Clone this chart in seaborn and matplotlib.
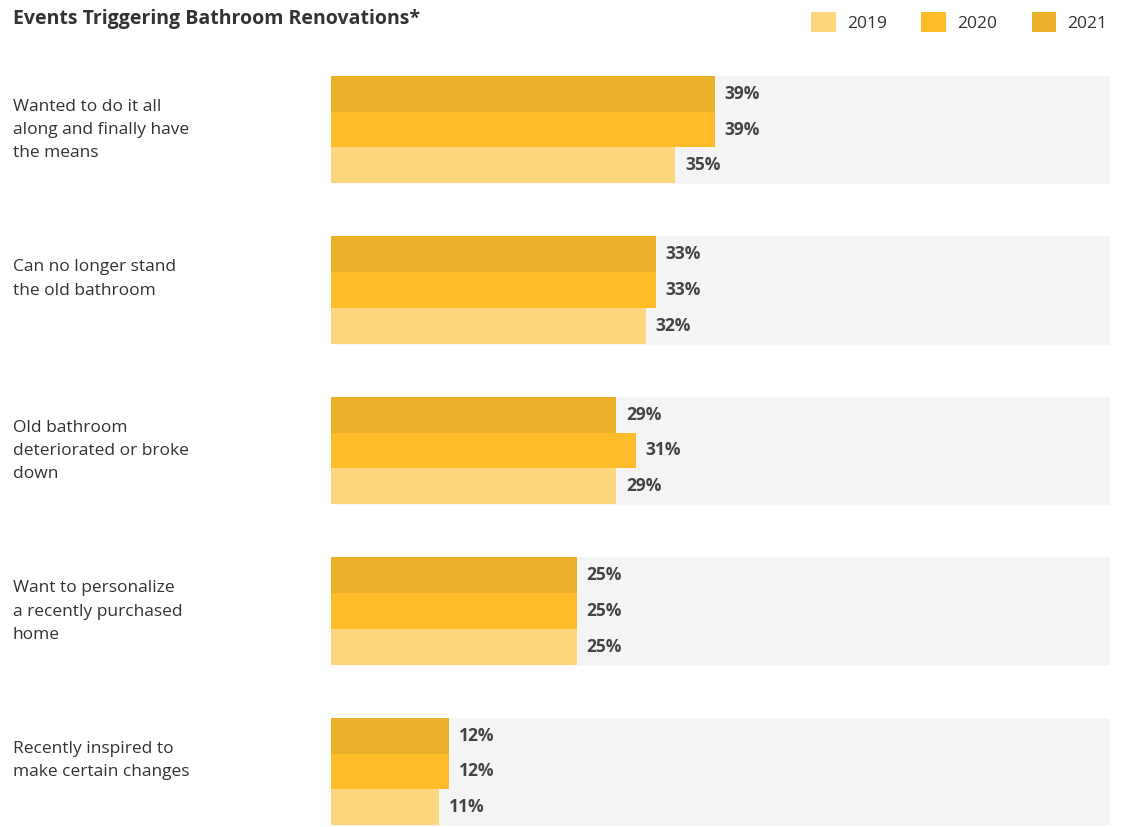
import pandas as pd
import matplotlib.pyplot as plt
import matplotlib.transforms as mtransforms
from matplotlib.patches import Patch
import seaborn as sns

# ==========================
# Data
# ==========================

categories = [
    "Wanted to do it all\nalong and finally have\nthe means",
    "Can no longer stand\nthe old bathroom",
    "Old bathroom\ndeteriorated or broke\ndown",
    "Want to personalize\na recently purchased\nhome",
    "Recently inspired to\nmake certain changes",
]
years = ["2019", "2020", "2021"]
v2019 = [35, 32, 29, 25, 11]
v2020 = [39, 33, 31, 25, 12]
v2021 = [39, 33, 29, 25, 12]

colors = {"2019": "#FED67E", "2020": "#FEBC29", "2021": "#EBB02A"}

df = pd.DataFrame({
    "category": categories * 3,
    "year": ["2019"] * 5 + ["2020"] * 5 + ["2021"] * 5,
    "value": v2019 + v2020 + v2021,
})

# ==========================
# Plot
# ==========================

sns.set_theme(style="white")
plt.rcParams["font.family"] = ["Open Sans", "DejaVu Sans"]

fig = plt.figure(figsize=(11.22, 8.27), dpi=100)
ax = fig.add_axes([331 / 1122, 0, 779 / 1122, 1])

sns.barplot(
    data=df,
    y="category",
    x="value",
    hue="year",
    order=categories,
    hue_order=["2021", "2020", "2019"],
    palette=colors,
    width=0.667,
    saturation=1,
    linewidth=0,
    legend=False,
    orient="h",
    ax=ax,
)

for c in ax.containers[:3]:
    ax.bar_label(
        c,
        fmt="%d%%",
        padding=7,
        fontsize=12.5,
        fontweight="bold",
        color="#444444",
    )

xmax = 79.2
ax.barh(range(len(categories)), [xmax] * len(categories), height=0.68,
        color="#F4F4F4", zorder=0)

ax.set_xlim(0, xmax)
ax.set_ylim(4.346, -0.807)
ax.set_xlabel("")
ax.set_ylabel("")
ax.set_xticks([])
ax.set_yticks([])
sns.despine(ax=ax, left=True, bottom=True)

# labels are top aligned, a bit above the group centre
trans = mtransforms.blended_transform_factory(fig.transFigure, ax.transData)
trans = mtransforms.offset_copy(trans, fig=fig, y=22, units="points")
for i, cat in enumerate(categories):
    ax.text(13 / 1122, i, cat, transform=trans, ha="left", va="top",
            fontsize=12.5, color="#333333", linespacing=1.6)

fig.text(13 / 1122, 1 - 19 / 827, "Events Triggering Bathroom Renovations*",
         ha="left", va="center", fontsize=14, fontweight="bold",
         color="#333333")

handles = [Patch(facecolor=colors[y], edgecolor="none", label=y) for y in years]
fig.legend(
    handles=handles,
    loc="upper right",
    bbox_to_anchor=(1123 / 1122, 1 + 4 / 827),
    ncol=3,
    frameon=False,
    fontsize=12.5,
    handlelength=1.4,
    handleheight=1.45,
    handletextpad=0.65,
    columnspacing=2.0,
    labelcolor="#333333",
)

plt.savefig("out.png", dpi=100)
plt.close()
